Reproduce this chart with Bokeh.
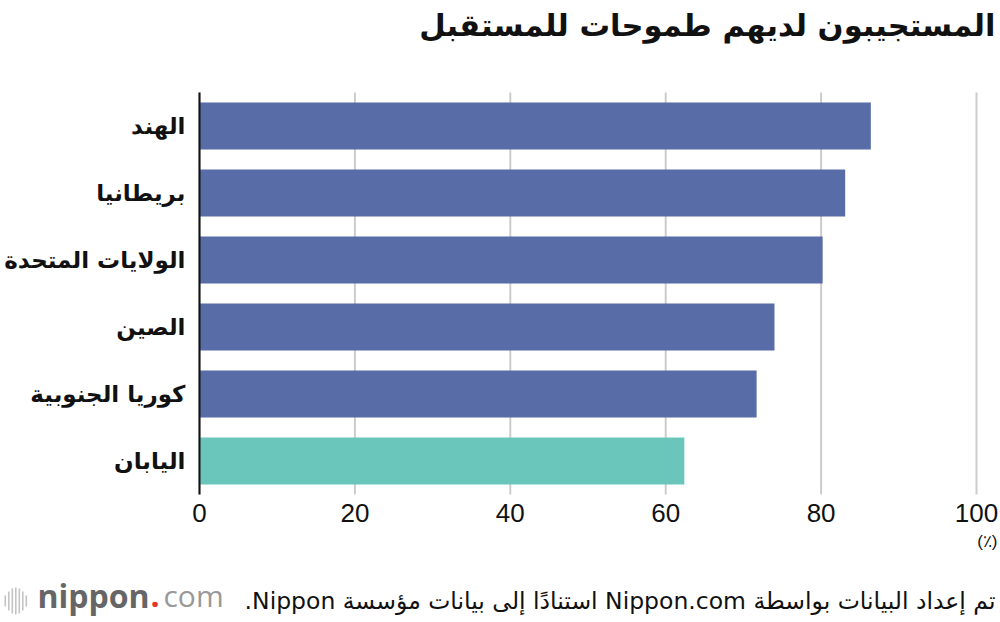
from bokeh.plotting import figure
from bokeh.models import Label, FixedTicker, BoxAnnotation, Range1d, LinearAxis
from bokeh.embed import file_html
from bokeh.resources import INLINE

countries = ["الهند", "بريطانيا", "الولايات المتحدة", "الصين", "كوريا الجنوبية", "اليابان"]
values = [86.4, 83.1, 80.2, 74.0, 71.7, 62.4]
bar_colors = ["#586ca8", "#586ca8", "#586ca8", "#586ca8", "#586ca8", "#6ac6ba"]
x_ticks = [0, 20, 40, 60, 80, 100]

title_text = "المستجيبون لديهم طموحات للمستقبل"
source_text = "\u2067تم إعداد البيانات بواسطة Nippon.com استنادًا إلى بيانات مؤسسة Nippon.\u2069"
unit_text = "(٪)"

W, H = 1000, 622
# plot-area geometry in canvas pixels
PL, PR, PT, PB = 199, 976, 92, 494
n = len(countries)
ypos = list(range(n - 1, -1, -1))          # first category on top
xs = (PR - PL) / (x_ticks[-1] - x_ticks[0])  # px per unit
ys = (PB - PT) / n                           # px per category band

x_range = Range1d(x_ticks[0] - PL / xs, x_ticks[-1] + (W - PR) / xs)
y_range = Range1d(-0.5 - (H - PB) / ys, n - 0.5 + PT / ys)

p = figure(width=W, height=H, output_backend="svg", toolbar_location=None,
           x_range=x_range, y_range=y_range, x_axis_location=None, y_axis_location=None,
           min_border=0)
p.outline_line_color = None
p.xgrid.visible = False
p.ygrid.visible = False

# vertical grid lines between the plot-area bounds
grid = p.segment(x0=x_ticks, y0=[-0.5] * len(x_ticks), x1=x_ticks, y1=[n - 0.5] * len(x_ticks),
                 line_color="#cccccc", line_width=2)
grid.level = "underlay"

p.hbar(y=ypos, right=values, height=0.7, color=bar_colors, line_color=None)

# x axis drawn at the bottom of the plot area
xaxis = LinearAxis(fixed_location=-0.5, ticker=FixedTicker(ticks=x_ticks), bounds=(0, 100))
xaxis.axis_line_color = None
xaxis.major_tick_line_color = None
xaxis.minor_tick_line_color = None
xaxis.major_label_text_font = "Liberation Sans"
xaxis.major_label_text_font_size = "26px"
xaxis.major_label_text_color = "#111111"
xaxis.major_label_standoff = 3
p.add_layout(xaxis, "below")

# category axis at x = 0
yaxis = LinearAxis(fixed_location=0, ticker=FixedTicker(ticks=ypos), bounds=(-0.5, n - 0.5),
                   major_label_overrides={yv: c for yv, c in zip(ypos, countries)})
yaxis.axis_line_color = "#111111"
yaxis.axis_line_width = 2
yaxis.major_tick_line_color = None
yaxis.minor_tick_line_color = None
yaxis.major_label_text_font = "DejaVu Sans"
yaxis.major_label_text_font_style = "bold"
yaxis.major_label_text_font_size = "23px"
yaxis.major_label_text_color = "#111111"
yaxis.major_label_standoff = 8
p.add_layout(yaxis, "left")


def lab(px, py, text, **kw):
    p.add_layout(Label(x=px, y=H - py, x_units="screen", y_units="screen", text=text, **kw))


lab(995, 25, title_text, text_align="right", text_baseline="middle", text_font="DejaVu Sans",
    text_font_style="bold", text_font_size="30.5px", text_color="#111111")
lab(997, 541, unit_text, text_align="right", text_baseline="middle", text_font="Liberation Sans",
    text_font_size="17px", text_color="#111111")
lab(995, 600, source_text, text_align="right", text_baseline="middle", text_font="DejaVu Sans",
    text_font_size="23.5px", text_color="#111111")

# logo
icon = [(4, 595, 606), (7.5, 591, 610), (11, 588, 613), (14.5, 587, 614), (18, 588, 613),
        (21.5, 591, 610), (25, 595, 606)]
for x0, t, b in icon:
    p.add_layout(BoxAnnotation(left=x0, right=x0 + 1.6, top=H - t, bottom=H - b,
                               left_units="screen", right_units="screen",
                               top_units="screen", bottom_units="screen",
                               fill_color="#c4c4c4", fill_alpha=1, line_color=None))
lab(37, 595, "nippon", text_align="left", text_baseline="middle", text_font="Open Sans",
    text_font_style="bold", text_font_size="32px", text_color="#666666")
lab(150, 595, ".", text_align="left", text_baseline="middle", text_font="Open Sans",
    text_font_style="bold", text_font_size="32px", text_color="#e8332a")
lab(163, 595, "com", text_align="left", text_baseline="middle", text_font="Open Sans",
    text_font_size="30px", text_color="#999999")

open("out.html", "w").write(file_html(p, INLINE))
